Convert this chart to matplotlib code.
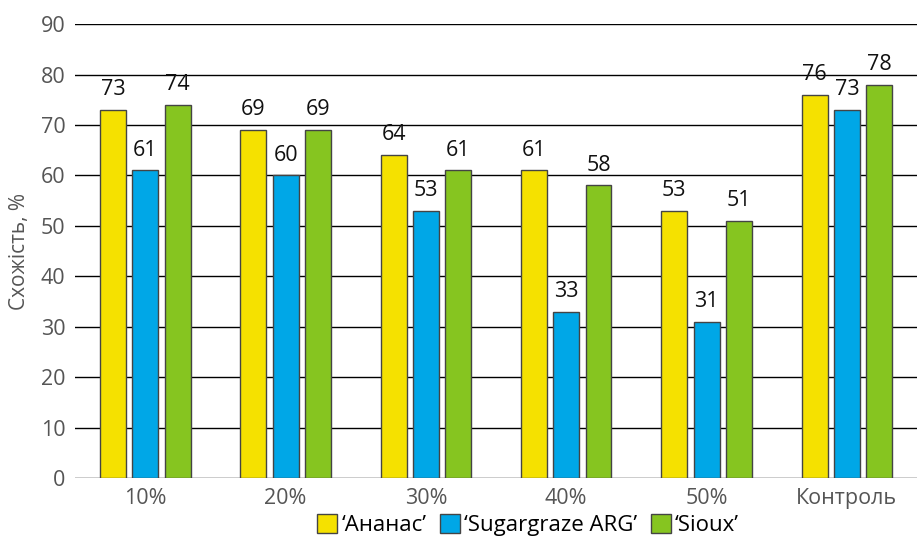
import numpy as np
import matplotlib
matplotlib.use('Agg')
import matplotlib.pyplot as plt

# ── Data ──
groups = ['10%', '20%', '30%', '40%', '50%', 'Контроль']
ananas = [73, 69, 64, 61, 53, 76]
sugargraze = [61, 60, 53, 33, 31, 73]
sioux = [74, 69, 61, 58, 51, 78]
series_names = ['\u2018Ананас\u2019', '\u2018Sugargraze ARG\u2019', '\u2018Sioux\u2019']

colors = ['#F5E100', '#00A7E7', '#86C520']
plt.rcParams['font.family'] = ['Open Sans', 'DejaVu Sans']

fig = plt.figure(figsize=(9.17, 5.41), dpi=100)
ax = fig.add_axes([0.082, 0.1165, 0.918, 0.839])

x = np.arange(len(groups))
width = 0.185
step = 0.23
for i, (vals, col, name) in enumerate(zip([ananas, sugargraze, sioux], colors, series_names)):
    bars = ax.bar(x + (i - 1) * step, vals, width, color=col, edgecolor='#444444',
                  linewidth=1.0, label=name, zorder=3)
    for b, v in zip(bars, vals):
        ax.annotate(str(v), (b.get_x() + b.get_width() / 2, v), xytext=(0, 7),
                    textcoords='offset points', ha='center', va='bottom',
                    fontsize=15.5, color='#111111')

ax.set_xlim(-0.5, len(groups) - 0.5)
ax.set_ylim(0, 90)
ax.set_yticks(range(0, 91, 10))
ax.set_xticks(x)
ax.set_xticklabels(groups)
ax.yaxis.grid(True, color='black', linewidth=1.0, zorder=0)
ax.set_axisbelow(True)
for s in ax.spines.values():
    s.set_visible(False)
ax.tick_params(axis='both', length=0, labelsize=15.5, labelcolor='#555555', pad=7)
ax.set_ylabel('Схожість, %', fontsize=15, color='#555555', labelpad=8)

ax.legend(loc='upper center', bbox_to_anchor=(0.538, -0.06), ncol=3, frameon=False,
          fontsize=16, handlelength=0.9, handleheight=0.9, handletextpad=0.2,
          columnspacing=0.6, borderaxespad=0)

fig.savefig('out.png', dpi=100)
